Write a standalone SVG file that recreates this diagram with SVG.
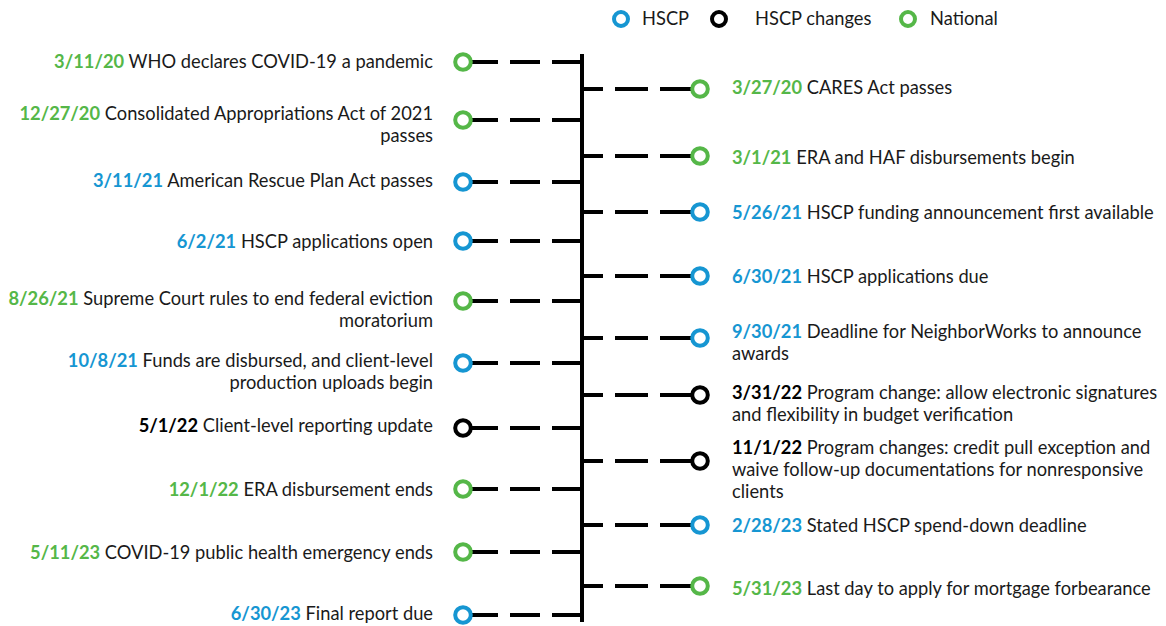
<svg xmlns="http://www.w3.org/2000/svg" width="1166" height="626" viewBox="0 0 1166 626">
  <style>
    text { font-family: Lato, "Liberation Sans", sans-serif; font-size: 18.3px; fill: #1a1a1a; }
    .l { text-anchor: end; }
    .d { font-weight: bold; }
    .g { fill: #55b748; }
    .b { fill: #1696d2; }
    .k { fill: #000; }
    .node { fill: #fff; stroke-width: 4; }
    .ng { stroke: #55b748; }
    .nb { stroke: #1696d2; }
    .nk { stroke: #000; }
    .dash { stroke: #000; stroke-width: 4; fill: none; }
  </style>
  <rect width="1166" height="626" fill="#fff"/>

  <!-- legend -->
  <g id="legend">
    <circle class="node nb" cx="621" cy="19" r="7"/>
    <text x="642" y="25">HSCP</text>
    <circle class="node nk" cx="719" cy="19" r="7"/>
    <text x="755" y="25">HSCP changes</text>
    <circle class="node ng" cx="908" cy="19" r="7"/>
    <text x="930" y="25">National</text>
  </g>

  <!-- spine and dashed connectors -->
  <g id="connectors">
    <line class="dash" x1="582" y1="54" x2="582" y2="622"/>
    <g stroke-dasharray="30 12">
      <line class="dash" x1="582" y1="62" x2="470" y2="62"/>
      <line class="dash" x1="582" y1="120" x2="470" y2="120"/>
      <line class="dash" x1="582" y1="182" x2="470" y2="182"/>
      <line class="dash" x1="582" y1="241" x2="470" y2="241"/>
      <line class="dash" x1="582" y1="301" x2="470" y2="301"/>
      <line class="dash" x1="582" y1="363" x2="470" y2="363"/>
      <line class="dash" x1="582" y1="428" x2="470" y2="428"/>
      <line class="dash" x1="582" y1="489" x2="470" y2="489"/>
      <line class="dash" x1="582" y1="552" x2="470" y2="552"/>
      <line class="dash" x1="582" y1="615" x2="470" y2="615"/>
    </g>
    <g stroke-dasharray="33 12">
      <line class="dash" x1="693" y1="89" x2="582" y2="89"/>
      <line class="dash" x1="693" y1="156" x2="582" y2="156"/>
      <line class="dash" x1="693" y1="212" x2="582" y2="212"/>
      <line class="dash" x1="693" y1="276" x2="582" y2="276"/>
      <line class="dash" x1="693" y1="338" x2="582" y2="338"/>
      <line class="dash" x1="693" y1="395" x2="582" y2="395"/>
      <line class="dash" x1="693" y1="461" x2="582" y2="461"/>
      <line class="dash" x1="693" y1="525" x2="582" y2="525"/>
      <line class="dash" x1="693" y1="586" x2="582" y2="586"/>
    </g>
  </g>

  <!-- left-hand events -->
  <g id="e-2020-03-11"><circle class="node ng" cx="463" cy="62" r="7.8"/>
    <text class="l" x="433" y="68"><tspan class="d g">3/11/20</tspan> WHO declares COVID-19 a pandemic</text></g>
  <g id="e-2020-12-27"><circle class="node ng" cx="463" cy="120" r="7.8"/>
    <text class="l" x="433" y="120"><tspan class="d g">12/27/20</tspan> Consolidated Appropriations Act of 2021</text>
    <text class="l" x="433" y="142">passes</text></g>
  <g id="e-2021-03-11"><circle class="node nb" cx="463" cy="182" r="7.8"/>
    <text class="l" x="433" y="187"><tspan class="d b">3/11/21</tspan> American Rescue Plan Act passes</text></g>
  <g id="e-2021-06-02"><circle class="node nb" cx="463" cy="241" r="7.8"/>
    <text class="l" x="433" y="248"><tspan class="d b">6/2/21</tspan> HSCP applications open</text></g>
  <g id="e-2021-08-26"><circle class="node ng" cx="463" cy="301" r="7.8"/>
    <text class="l" x="433" y="305"><tspan class="d g">8/26/21</tspan> Supreme Court rules to end federal eviction</text>
    <text class="l" x="433" y="327">moratorium</text></g>
  <g id="e-2021-10-08"><circle class="node nb" cx="463" cy="363" r="7.8"/>
    <text class="l" x="433" y="367"><tspan class="d b">10/8/21</tspan> Funds are disbursed, and client-level</text>
    <text class="l" x="433" y="389">production uploads begin</text></g>
  <g id="e-2022-05-01"><circle class="node nk" cx="463" cy="428" r="7.8"/>
    <text class="l" x="433" y="432"><tspan class="d k">5/1/22</tspan> Client-level reporting update</text></g>
  <g id="e-2022-12-01"><circle class="node ng" cx="463" cy="489" r="7.8"/>
    <text class="l" x="433" y="496"><tspan class="d g">12/1/22</tspan> ERA disbursement ends</text></g>
  <g id="e-2023-05-11"><circle class="node ng" cx="463" cy="552" r="7.8"/>
    <text class="l" x="433" y="559"><tspan class="d g">5/11/23</tspan> COVID-19 public health emergency ends</text></g>
  <g id="e-2023-06-30"><circle class="node nb" cx="463" cy="615" r="7.8"/>
    <text class="l" x="433" y="620"><tspan class="d b">6/30/23</tspan> Final report due</text></g>

  <!-- right-hand events -->
  <g id="e-2020-03-27"><circle class="node ng" cx="700" cy="89" r="7.8"/>
    <text x="732" y="94"><tspan class="d g">3/27/20</tspan> CARES Act passes</text></g>
  <g id="e-2021-03-01"><circle class="node ng" cx="700" cy="156" r="7.8"/>
    <text x="732" y="164"><tspan class="d g">3/1/21</tspan> ERA and HAF disbursements begin</text></g>
  <g id="e-2021-05-26"><circle class="node nb" cx="700" cy="212" r="7.8"/>
    <text x="732" y="219"><tspan class="d b">5/26/21</tspan> HSCP funding announcement first available</text></g>
  <g id="e-2021-06-30"><circle class="node nb" cx="700" cy="276" r="7.8"/>
    <text x="732" y="283"><tspan class="d b">6/30/21</tspan> HSCP applications due</text></g>
  <g id="e-2021-09-30"><circle class="node nb" cx="700" cy="338" r="7.8"/>
    <text x="732" y="338"><tspan class="d b">9/30/21</tspan> Deadline for NeighborWorks to announce</text>
    <text x="732" y="360">awards</text></g>
  <g id="e-2022-03-31"><circle class="node nk" cx="700" cy="395" r="7.8"/>
    <text x="732" y="399"><tspan class="d k">3/31/22</tspan> Program change: allow electronic signatures</text>
    <text x="732" y="421">and flexibility in budget verification</text></g>
  <g id="e-2022-11-01"><circle class="node nk" cx="700" cy="461" r="7.8"/>
    <text x="732" y="454"><tspan class="d k">11/1/22</tspan> Program changes: credit pull exception and</text>
    <text x="732" y="476">waive follow-up documentations for nonresponsive</text>
    <text x="732" y="498">clients</text></g>
  <g id="e-2023-02-28"><circle class="node nb" cx="700" cy="525" r="7.8"/>
    <text x="732" y="532"><tspan class="d b">2/28/23</tspan> Stated HSCP spend-down deadline</text></g>
  <g id="e-2023-05-31"><circle class="node ng" cx="700" cy="586" r="7.8"/>
    <text x="732" y="595"><tspan class="d g">5/31/23</tspan> Last day to apply for mortgage forbearance</text></g>
</svg>
